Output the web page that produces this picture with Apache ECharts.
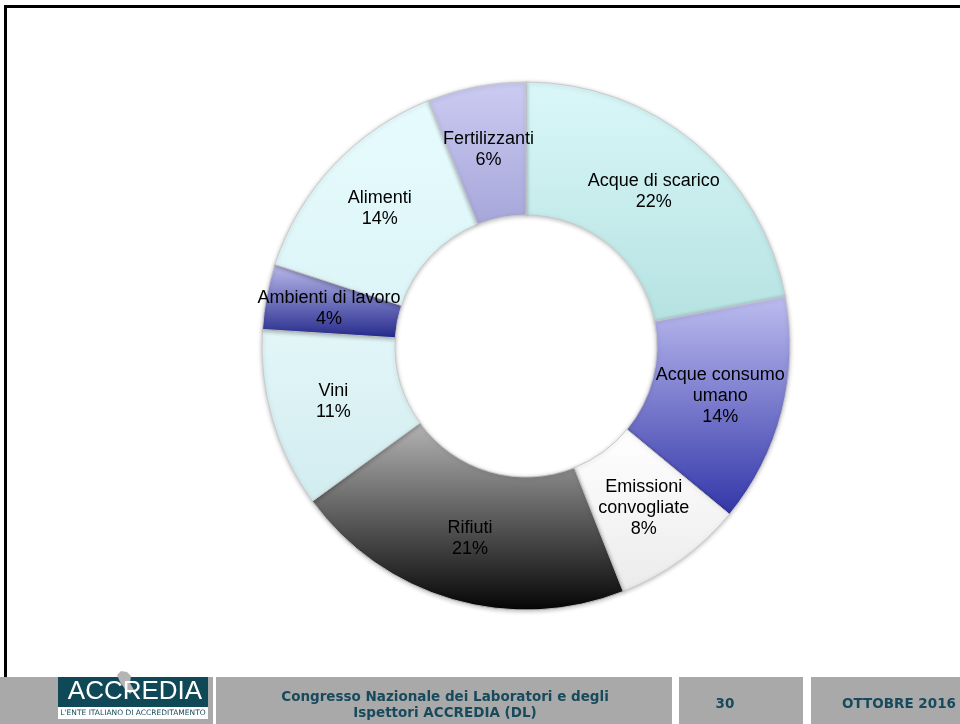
<!DOCTYPE html>
<html>
<head>
<meta charset="utf-8">
<script src="https://cdn.jsdelivr.net/npm/echarts@6/dist/echarts.min.js"></script>
<style>
  html, body { margin: 0; padding: 0; background: #fff; }
  #chart { width: 960px; height: 724px; }
</style>
</head>
<body>
<div id="chart"></div>
<script>
// Accredited laboratories by sector (share of total, %)
const categories = [
  'Acque di scarico',
  'Acque consumo\numano',
  'Emissioni\nconvogliate',
  'Rifiuti',
  'Vini',
  'Ambienti di lavoro',
  'Alimenti',
  'Fertilizzanti'
];
const shares = [22, 14, 8, 21, 11, 4, 14, 6];

// Footer texts
const footerTitle = 'Congresso Nazionale dei Laboratori e degli\nIspettori ACCREDIA (DL)';
const slideNumber = '30';
const slideDate = 'OTTOBRE 2016';

// Vertical fill per slice: [top, bottom]
const sliceFills = [
  ['#daf7f8', '#b6e2e2'],
  ['#bdbdf0', '#3336a8'],
  ['#ffffff', '#ebebeb'],
  ['#b4b4b4', '#050505'],
  ['#e2f6f8', '#d2ecf0'],
  ['#bcbcec', '#252a8c'],
  ['#e6fbfd', '#ddf5f8'],
  ['#cbcbf2', '#a6a6da']
];

const vgrad = (c) => new echarts.graphic.LinearGradient(0, 0, 0, 1, [
  { offset: 0, color: c[0] },
  { offset: 1, color: c[1] }
]);

const chart = echarts.init(document.getElementById('chart'), null, { renderer: 'canvas' });

const teal = '#174a5c';
const footerTop = 677;
const footFont = 'bold 13.5px "DejaVu Sans", Verdana, sans-serif';

const graphics = [
  // slide frame
  { type: 'rect', shape: { x: 4, y: 5, width: 960, height: 3 }, style: { fill: '#000' }, silent: true },
  { type: 'rect', shape: { x: 4, y: 5, width: 3, height: footerTop - 5 }, style: { fill: '#000' }, silent: true },
  // footer bands
  { type: 'rect', shape: { x: 0, y: footerTop, width: 213, height: 724 - footerTop }, style: { fill: '#a9a9a9' }, silent: true },
  { type: 'rect', shape: { x: 216, y: footerTop, width: 456, height: 724 - footerTop }, style: { fill: '#a9a9a9' }, silent: true },
  { type: 'rect', shape: { x: 679, y: footerTop, width: 124, height: 724 - footerTop }, style: { fill: '#a9a9a9' }, silent: true },
  { type: 'rect', shape: { x: 811, y: footerTop, width: 149, height: 724 - footerTop }, style: { fill: '#a9a9a9' }, silent: true },
  // logo
  { type: 'rect', shape: { x: 58, y: footerTop, width: 150, height: 30 }, style: { fill: '#0f4857' }, silent: true },
  { type: 'rect', shape: { x: 58, y: footerTop + 30, width: 150, height: 12 }, style: { fill: '#ffffff' }, silent: true },
  { type: 'polygon', shape: { points: [[117, 675], [121, 671], [127, 672], [131, 676], [130, 683], [134, 690], [130, 694], [125, 689], [120, 682]] }, style: { fill: '#b5b5b5' }, silent: true },
  { type: 'text', x: 135, y: footerTop + 15, style: { text: 'ACCREDIA', fill: '#ffffff', font: '26px "Liberation Sans", Arial, sans-serif', align: 'center', verticalAlign: 'middle' }, silent: true },
  { type: 'text', x: 133, y: footerTop + 36, style: { text: "L'ENTE ITALIANO DI ACCREDITAMENTO", fill: teal, font: '7.5px "DejaVu Sans", sans-serif', align: 'center', verticalAlign: 'middle' }, silent: true },
  // footer texts
  { type: 'text', x: 445, y: footerTop + 28, style: { text: footerTitle, fill: teal, font: footFont, lineHeight: 16, align: 'center', verticalAlign: 'middle' }, silent: true },
  { type: 'text', x: 725, y: footerTop + 27, style: { text: slideNumber, fill: teal, font: footFont, align: 'center', verticalAlign: 'middle' }, silent: true },
  { type: 'text', x: 899, y: footerTop + 27, style: { text: slideDate, fill: teal, font: footFont, align: 'center', verticalAlign: 'middle' }, silent: true }
];

chart.setOption({
  backgroundColor: '#ffffff',
  animation: false,
  graphic: graphics,
  series: [{
    type: 'pie',
    center: [526, 346],
    radius: [131, 264],
    startAngle: 90,
    clockwise: true,
    avoidLabelOverlap: false,
    data: categories.map((name, i) => ({
      name: name,
      value: shares[i],
      itemStyle: { color: vgrad(sliceFills[i]) }
    })),
    itemStyle: {
      borderColor: 'rgba(200,200,200,0.9)',
      borderWidth: 1,
      shadowBlur: 4,
      shadowColor: 'rgba(0,0,0,0.25)',
      shadowOffsetY: 1
    },
    label: {
      show: true,
      position: 'inside',
      formatter: '{b}\n{c}%',
      color: '#000000',
      fontFamily: '"Liberation Sans", Arial, sans-serif',
      fontSize: 18,
      lineHeight: 21,
      align: 'center'
    },
    labelLine: { show: false },
    emphasis: { disabled: true }
  }]
});
</script>
</body>
</html>
